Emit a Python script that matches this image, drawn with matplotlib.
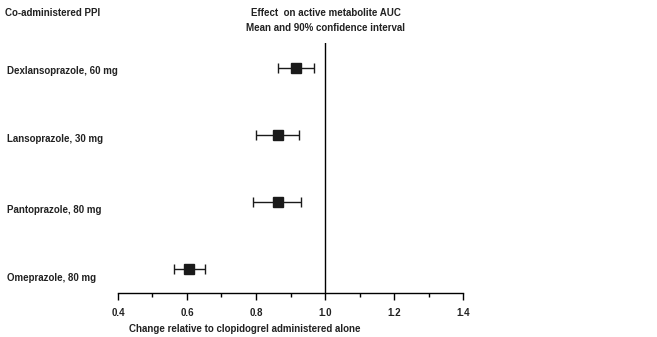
import matplotlib
matplotlib.use('Agg')
import matplotlib.pyplot as plt

# PPI effect on clopidogrel active metabolite AUC
drugs = ['Dexlansoprazole, 60 mg', 'Lansoprazole, 30 mg', 'Pantoprazole, 80 mg', 'Omeprazole, 80 mg']
means = [0.916, 0.863, 0.863, 0.605]
ci_low = [0.863, 0.800, 0.792, 0.562]
ci_high = [0.969, 0.924, 0.931, 0.652]

x_ticks = [0.4, 0.6, 0.8, 1.0, 1.2, 1.4]
x_minor = [0.5, 0.7, 0.9, 1.1, 1.3]

plt.rcParams['font.family'] = ['Liberation Sans', 'DejaVu Sans']
plt.rcParams['font.weight'] = 'bold'
plt.rcParams['font.size'] = 7
txt_color = '#222222'

W, H = 657, 337


def draw():
    fig = plt.figure(figsize=(W / 100, H / 100), dpi=100)
    ax = fig.add_axes([118 / W, (H - 293) / H, (463 - 118) / W, (293 - 43) / H])

    ypos = list(range(len(drugs), 0, -1))
    err = [[m - lo for m, lo in zip(means, ci_low)], [hi - m for m, hi in zip(means, ci_high)]]
    ax.errorbar(means, ypos, xerr=err, fmt='s', color='#1a1a1a', ms=6.5,
                capsize=3.6, elinewidth=1.0, capthick=1.0, zorder=3)
    ax.axvline(1.0, color='black', lw=1.0)

    ax.set_xlim(0.4, 1.4)
    ax.set_ylim(0.642, 4.368)
    ax.set_xticks(x_ticks)
    ax.set_xticks(x_minor, minor=True)
    ax.set_xticklabels(['%.1f' % t for t in x_ticks], fontweight='bold', color=txt_color)
    ax.tick_params(axis='x', which='major', length=5, width=1.0, pad=6)
    ax.tick_params(axis='x', which='minor', length=3, width=1.0)
    ax.set_yticks([])
    for s in ['left', 'right', 'top']:
        ax.spines[s].set_visible(False)
    ax.spines['bottom'].set_linewidth(1.0)

    # row labels sit a little below their markers in the original
    label_base = [74, 142, 213, 281]
    for name, yb in zip(drugs, label_base):
        fig.text(7 / W, 1 - yb / H, name, ha='left', va='baseline',
                 fontweight='bold', color=txt_color)

    fig.text(5 / W, 1 - 13 / H, 'Co-administered PPI', ha='left', va='center',
             fontweight='bold', color=txt_color)
    fig.text(326 / W, 1 - 13 / H, 'Effect  on active metabolite AUC', ha='center', va='center',
             fontweight='bold', color=txt_color)
    fig.text(326 / W, 1 - 28 / H, 'Mean and 90% confidence interval', ha='center', va='center',
             fontweight='bold', color=txt_color)
    fig.text(129 / W, 1 - 329 / H, 'Change relative to clopidogrel administered alone',
             ha='left', va='center', fontweight='bold', color=txt_color)

    fig.savefig('out.png', dpi=100)


if __name__ == '__main__':
    draw()
